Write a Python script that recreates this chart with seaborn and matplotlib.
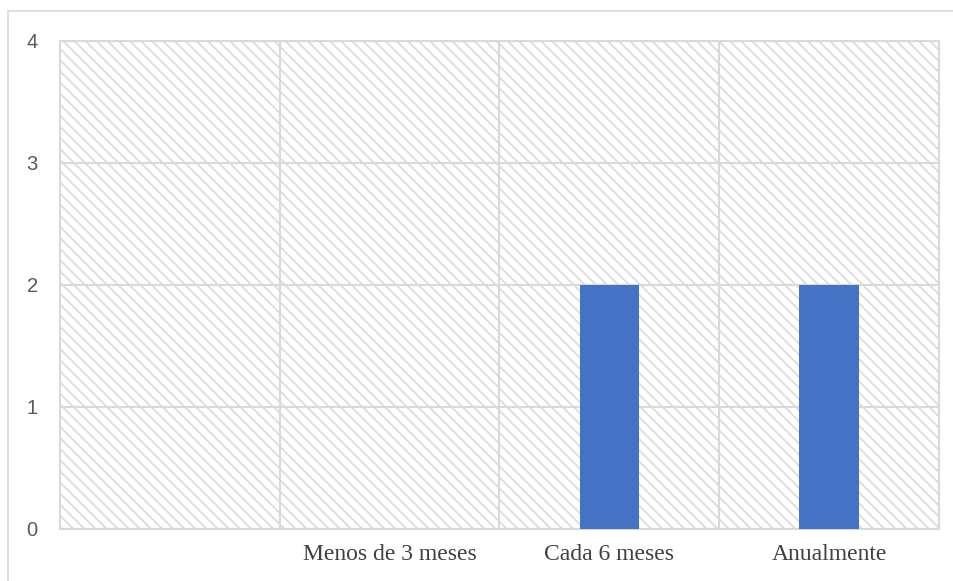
import matplotlib
matplotlib.use("Agg")
import matplotlib.pyplot as plt
from matplotlib.patches import Rectangle
from matplotlib.lines import Line2D
import seaborn as sns
import pandas as pd

categories = ["", "Menos de 3 meses", "Cada 6 meses", "Anualmente"]
values = [0, 0, 2, 2]
y_ticks = [0, 1, 2, 3, 4]

sns.set_theme(style="white")
plt.rcParams["hatch.linewidth"] = 1.3

df = pd.DataFrame({"cat": categories, "val": values})

W, H = 954, 581
fig = plt.figure(figsize=(W / 100, H / 100), dpi=100)
ax = fig.add_axes([60 / W, (H - 529) / H, 879 / W, 488 / H])

grid_c = "#d9d9d9"

# hatched plot-area background
ax.add_patch(Rectangle((0, 0), 1, 1, transform=ax.transAxes, facecolor="white",
                       edgecolor="#dcdcdc", hatch="\\" * 3, lw=0, zorder=0))

sns.barplot(data=df, x="cat", y="val", order=categories, color="#4472C4",
            width=0.27, saturation=1, ax=ax, zorder=3, linewidth=0)

ax.set_xlim(-0.5, 3.5)
ax.set_ylim(0, 4)
ax.set_yticks(y_ticks)
ax.set_yticklabels([str(t) for t in y_ticks], fontsize=14.5, color="#595959",
                   family="Liberation Sans")
ax.set_xticks(range(len(categories)))
ax.set_xticklabels(categories, fontsize=17, color="#404040", family="Liberation Serif")
ax.set_xticks([0.5, 1.5, 2.5], minor=True)
ax.tick_params(axis="y", length=0, pad=16)
ax.tick_params(axis="x", which="both", length=0, pad=11)
ax.set_xlabel("")
ax.set_ylabel("")

ax.grid(axis="y", which="major", color=grid_c, lw=1.5, zorder=1)
ax.grid(axis="x", which="minor", color=grid_c, lw=1.5, zorder=1)
ax.grid(axis="x", which="major", visible=False)
ax.set_axisbelow(True)
for s in ax.spines.values():
    s.set_color(grid_c)
    s.set_linewidth(1.5)
    s.set_visible(True)

# outer chart frame
fig.add_artist(Line2D([8 / W, 1], [1 - 11 / H, 1 - 11 / H], color=grid_c, lw=1.2,
                      transform=fig.transFigure))
fig.add_artist(Line2D([8 / W, 8 / W], [0, 1 - 11 / H], color=grid_c, lw=1.2,
                      transform=fig.transFigure))

fig.savefig("out.png", dpi=100)
